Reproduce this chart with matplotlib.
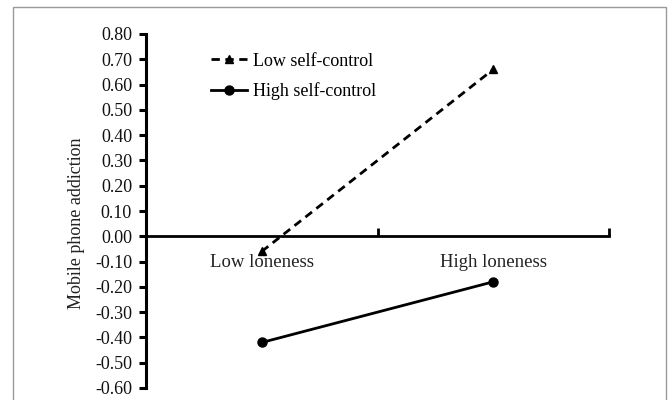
import matplotlib.pyplot as plt
from matplotlib.patches import Rectangle

# Data
categories = ["Low loneness", "High loneness"]
low_self_control = [-0.06, 0.66]
high_self_control = [-0.42, -0.18]
y_ticks = [0.80, 0.70, 0.60, 0.50, 0.40, 0.30, 0.20, 0.10, 0.00,
           -0.10, -0.20, -0.30, -0.40, -0.50, -0.60]

plt.rcParams['font.family'] = ['Liberation Serif', 'DejaVu Serif']

fig = plt.figure(figsize=(6.72, 4.0), dpi=100)
ax = fig.add_axes([146 / 672, 1 - 388 / 400, (609 - 146) / 672, (388 - 34) / 400])

# frame around the figure (bottom cut off)
fig.patches.append(Rectangle((13 / 672, -0.05), (666 - 13) / 672, 1.05 - 7 / 400,
                             transform=fig.transFigure, fill=False,
                             edgecolor="#9a9a9a", linewidth=1.0))

x = [0.5, 1.5]
ax.plot(x, low_self_control, color="black", linestyle=(0, (3, 2)), linewidth=2.0,
        marker="^", markersize=6, label="Low self-control")
ax.plot(x, high_self_control, color="black", linestyle="-", linewidth=2.0,
        marker="o", markersize=6.5, label="High self-control")

ax.set_xlim(0, 2)
ax.set_ylim(-0.6, 0.8)

for side in ["top", "right"]:
    ax.spines[side].set_visible(False)
ax.spines["bottom"].set_position(("data", 0))
ax.spines["bottom"].set_linewidth(2.0)
ax.spines["left"].set_linewidth(2.2)

ax.set_yticks(y_ticks)
ax.set_yticklabels([f"{v:.2f}" for v in y_ticks])
ax.tick_params(axis="y", direction="out", length=5, width=2.2, labelsize=13,
               labelcolor="#111111", pad=5)

ax.set_xticks([1, 2])
ax.set_xticklabels([])
ax.tick_params(axis="x", which="major", direction="in", length=6, width=2.0)
ax.set_xticks(x, minor=True)
ax.set_xticklabels(categories, minor=True)
ax.tick_params(axis="x", which="minor", length=0, pad=13, labelsize=13.5,
               labelcolor="#222222")

ax.set_ylabel("Mobile phone addiction", fontsize=13, color="#222222")
ax.yaxis.set_label_coords(-0.132, 0.466)

ax.legend(loc="upper left", bbox_to_anchor=(0.125, 0.968), frameon=False,
          fontsize=13, handlelength=2.0, handletextpad=0.3, labelspacing=0.7,
          borderaxespad=0)

fig.savefig("out.png", dpi=100)
